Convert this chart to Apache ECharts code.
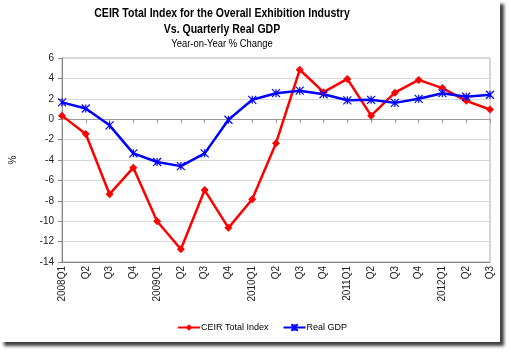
<!DOCTYPE html>
<html><head><meta charset="utf-8">
<script src="https://cdn.jsdelivr.net/npm/echarts@6/dist/echarts.min.js"></script>
<style>
html,body{margin:0;padding:0;background:#fff;width:511px;height:352px;overflow:hidden}
#c{position:absolute;left:0;top:0;width:500px;height:342px;background:#fff;box-shadow:4px 4px 3px rgba(0,0,0,0.75)}
</style></head>
<body><div id="c"></div>
<script>
const categories = ['2008Q1','Q2','Q3','Q4','2009Q1','Q2','Q3','Q4','2010Q1','Q2','Q3','Q4','2011Q1','Q2','Q3','Q4','2012Q1','Q2','Q3'];
const ceirTotalIndex = [0.35,-1.45,-7.35,-4.75,-10.0,-12.75,-6.95,-10.65,-7.85,-2.35,4.85,2.65,3.95,0.35,2.6,3.85,3.05,1.8,0.95];
const realGDP = [1.65,1.05,-0.6,-3.35,-4.2,-4.6,-3.35,-0.05,1.9,2.55,2.8,2.45,1.85,1.9,1.6,2.0,2.55,2.2,2.4];
const yTicks = {min:-14, max:6, interval:2};
const titleLines = ['CEIR Total Index for the Overall Exhibition Industry', 'Vs. Quarterly Real GDP'];
const subtitle = 'Year-on-Year % Change';

const reg = "'Liberation Sans',Arial,sans-serif";
const starPath = 'path://M0,0L10,10M10,0L0,10M5,0L5,10';

const chart = echarts.init(document.getElementById('c'));
chart.setOption({
  animation:false,
  backgroundColor:'#fff',
  graphic:[
    {type:'text', x:222, y:13, scaleX:0.81, silent:true,
     style:{text:titleLines[0], textAlign:'center', textVerticalAlign:'middle', font:"bold 13px "+reg, fill:'#000'}},
    {type:'text', x:222, y:29, scaleX:0.81, silent:true,
     style:{text:titleLines[1], textAlign:'center', textVerticalAlign:'middle', font:"bold 13px "+reg, fill:'#000'}},
    {type:'text', x:222, y:44, scaleX:0.82, silent:true,
     style:{text:subtitle, textAlign:'center', textVerticalAlign:'middle', font:"11.5px "+reg, fill:'#000'}}
  ],
  legend:{
    bottom:5, left:172, itemWidth:22, itemHeight:8, itemGap:14,
    textStyle:{fontFamily:reg, fontSize:9, color:'#000', padding:[0,0,0,-4]},
    data:[{name:'CEIR Total Index'},{name:'Real GDP'}]
  },
  grid:{left:55, right:10, top:58, bottom:80, show:true, borderColor:'#aaa', borderWidth:1, backgroundColor:'#fff'},
  xAxis:[
    {type:'category', data:categories, boundaryGap:false, position:'bottom',
     axisLine:{onZero:false, lineStyle:{color:'#888'}}, axisTick:{show:false},
     axisLabel:{rotate:90, fontFamily:reg, fontSize:10, color:'#222', margin:4, interval:0},
     splitLine:{show:false}},
    {type:'category', data:categories, boundaryGap:false, position:'bottom', gridIndex:0,
     axisLine:{onZero:true, lineStyle:{color:'#999'}}, axisTick:{show:true, length:4, lineStyle:{color:'#999'}, interval:0},
     axisLabel:{show:false}}
  ],
  yAxis:{type:'value', min:yTicks.min, max:yTicks.max, interval:yTicks.interval,
    name:'%', nameLocation:'middle', nameGap:44, nameRotate:90,
    nameTextStyle:{fontFamily:reg, fontSize:10, color:'#222'},
    axisLine:{show:true, lineStyle:{color:'#888'}}, axisTick:{show:true, length:4, lineStyle:{color:'#888'}},
    axisLabel:{fontFamily:reg, fontSize:10, color:'#222', margin:8},
    splitLine:{lineStyle:{color:'#d8d8d8'}}},
  series:[
    {name:'CEIR Total Index', type:'line', data:ceirTotalIndex, xAxisIndex:0,
     symbol:'diamond', symbolSize:8, lineStyle:{color:'#ff0000', width:2.5},
     itemStyle:{color:'#ff0000'}, color:'#ff0000'},
    {name:'Real GDP', type:'line', data:realGDP, xAxisIndex:0,
     symbol:starPath, symbolSize:8, lineStyle:{color:'#0000ff', width:2.5},
     itemStyle:{color:'#0000ff', borderColor:'#0000ff', borderWidth:1.2}, color:'#0000ff'}
  ]
});
</script></body></html>
